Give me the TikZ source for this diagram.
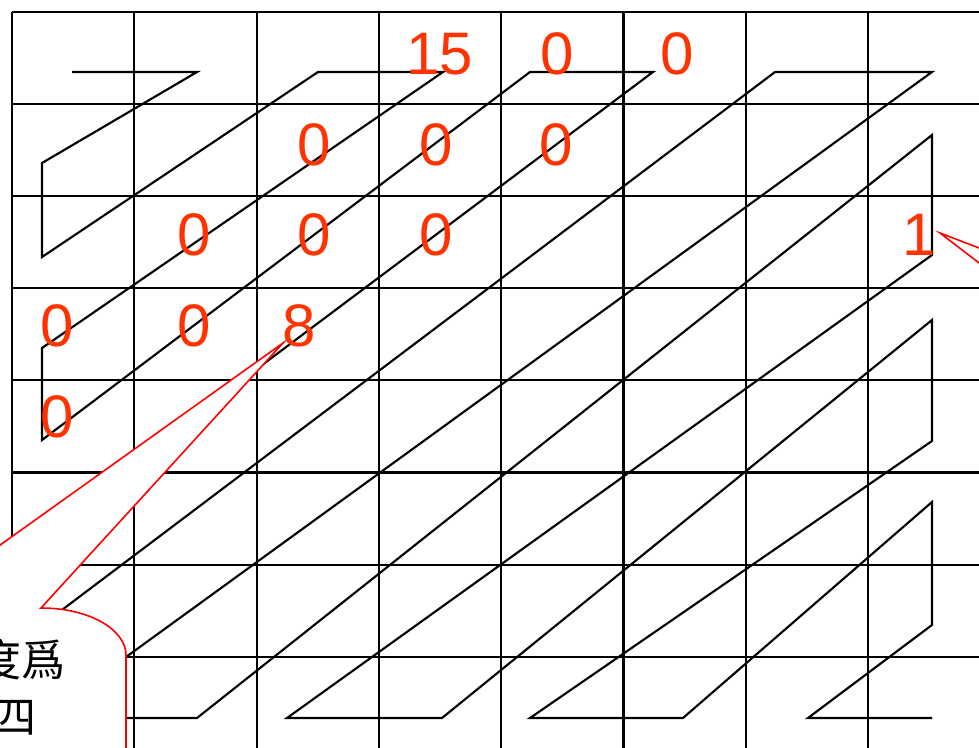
\documentclass[tikz,border=0pt]{standalone}
\usepackage{fontspec}
\setmainfont{Liberation Sans}
\newfontfamily\cjk{Noto Sans CJK TC}
\usetikzlibrary{positioning}
\definecolor{numred}{RGB}{255,51,0}

\begin{document}
\begin{tikzpicture}[x=0.75pt, y=-0.75pt,
    gridln/.style={black, line width=1.6pt},
    scan/.style={black, line width=1.6pt},
    val/.style={text=numred, font=\fontsize{45}{45}\selectfont, inner sep=0pt},
    bubble/.style={draw=red, fill=white, line width=1.2pt},
    note/.style={font=\cjk\fontsize{33}{33}\selectfont, anchor=east, inner sep=0pt}]
    \useasboundingbox (0,0) rectangle (979,747);
    \clip (0,0) rectangle (979,747);
    % 8x8 grid
    \foreach \i in {0,...,7} {
        \draw[gridln] ({12+122.3*\i},12) -- ({12+122.3*\i},760);
        \draw[gridln] (12,{12+92.1*\i}) -- (990,{12+92.1*\i});
    }
    % zigzag scan
    \draw[scan] (72,72) -- (197,72) -- (42,163) -- (42,257) -- (318,72) -- (443,72)
        -- (42,348) -- (42,440) -- (530,72) -- (653,72) -- (42,530) -- (42,625)
        -- (775,72) -- (932,72) -- (42,718) -- (197,718) -- (932,135) -- (932,255)
        -- (287,718) -- (442,718) -- (932,320) -- (932,441) -- (530,718) -- (683,718)
        -- (932,502) -- (932,625) -- (808,718) -- (932,718);
    % callouts
    \draw[bubble] (283,343) -- (-88,608) -- (-300,608) -- (-300,800) -- (126,800)
        -- (126,655) .. controls (126,630) and (90,608) .. (41,608) -- cycle;
    \draw[bubble] (940,233) -- (1060,279) -- (1100,279) -- (1100,325) -- (1060,325) -- cycle;
    % values
    \node[val] (v15) at (440,54) {15};
    \node[val] (v0a) at (557,54) {0};
    \node[val] (v0b) at (677,54) {0};
    \node[val] (v0c) at (314,145) {0};
    \node[val] (v0d) at (436,145) {0};
    \node[val] (v0e) at (556,145) {0};
    \node[val] (v0f) at (194,235) {0};
    \node[val] (v0g) at (314,235) {0};
    \node[val] (v0h) at (436,235) {0};
    \node[val] (v0i) at (57,326) {0};
    \node[val] (v0j) at (194,326) {0};
    \node[val] (v8) at (299,326) {8};
    \node[val] (v0k) at (57,417) {0};
    \node[val] (v1) at (919,235) {1};
    % callout text
    \node[note] (txtA) at (66,660) {度爲};
    \node[note] (txtB) at (37,718) {四};
\end{tikzpicture}
\end{document}
